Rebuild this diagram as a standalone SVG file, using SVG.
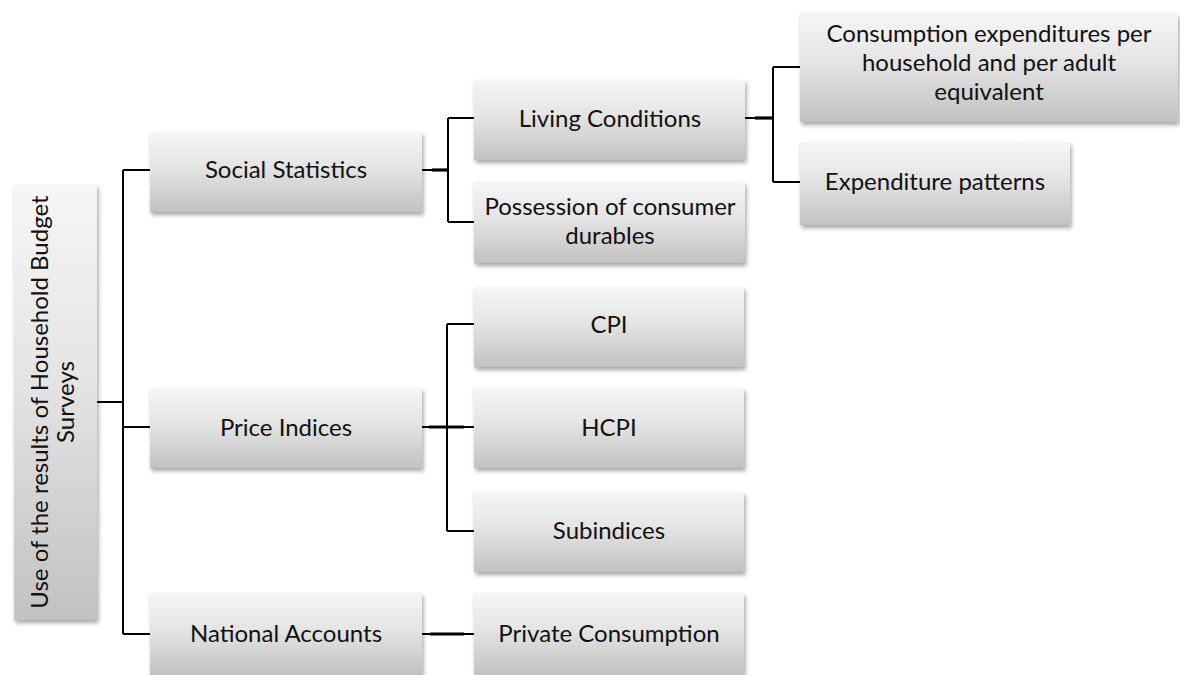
<svg xmlns="http://www.w3.org/2000/svg" width="1180" height="675" viewBox="0 0 1180 675">
<defs>
<linearGradient id="g" x1="0" y1="0" x2="0" y2="1">
<stop offset="0" stop-color="#f6f6f6"/>
<stop offset="0.45" stop-color="#e4e4e4"/>
<stop offset="1" stop-color="#c2c2c2"/>
</linearGradient>
<filter id="sh" x="-10%" y="-10%" width="125%" height="130%">
<feDropShadow dx="1.5" dy="3" stdDeviation="2" flood-color="#000" flood-opacity="0.35"/>
</filter>
<style>
.box{fill:url(#g);filter:url(#sh);}
.t{font-family:Lato,"Liberation Sans",sans-serif;font-size:24px;fill:#111;text-anchor:middle;}
.c{fill:none;stroke:#000;stroke-width:2;}
.ck{fill:none;stroke:#000;stroke-width:3.2;}
</style>
</defs>
<rect width="1180" height="675" fill="#fff"/>
<g id="connectors">
<path class="c" d="M97 402H123M123 170V634M123 170H150M123 427H150M123 634H150"/>
<path class="c" d="M422 170H448M448 118V222M448 118H474M448 222H474"/>
<path class="ck" d="M432 170H448"/>
<path class="c" d="M421 427H447M447 324V531M447 324H474M447 427H474M447 531H474"/>
<path class="ck" d="M429 427H464"/>
<path class="c" d="M422 634H474"/>
<path class="ck" d="M430 634H464"/>
<path class="c" d="M745 118H773M773 67V182M773 67H800M773 182H800"/>
<path class="ck" d="M755 118H773"/>
</g>
<g id="root">
<rect class="box" x="14" y="185" width="83" height="435"/>
<text class="t" transform="translate(48 402) rotate(-90)"><tspan x="0" y="0">Use of the results of Household Budget</tspan><tspan x="0" y="26">Surveys</tspan></text>
</g>
<g id="social">
<rect class="box" x="150" y="132" width="272" height="80"/>
<text class="t" x="286" y="178">Social Statistics</text>
</g>
<g id="price">
<rect class="box" x="150" y="388" width="272" height="80"/>
<text class="t" x="286" y="436">Price Indices</text>
</g>
<g id="national">
<rect class="box" x="150" y="593" width="272" height="82"/>
<text class="t" x="286" y="642">National Accounts</text>
</g>
<g id="living">
<rect class="box" x="474" y="80" width="271" height="80"/>
<text class="t" x="610" y="127">Living Conditions</text>
</g>
<g id="possession">
<rect class="box" x="474" y="182" width="271" height="81"/>
<text class="t" x="610" y="215">Possession of consumer</text>
<text class="t" x="610" y="244">durables</text>
</g>
<g id="cpi">
<rect class="box" x="474" y="287" width="270" height="80"/>
<text class="t" x="609" y="333">CPI</text>
</g>
<g id="hcpi">
<rect class="box" x="474" y="388" width="270" height="80"/>
<text class="t" x="609" y="436">HCPI</text>
</g>
<g id="subindices">
<rect class="box" x="474" y="492" width="270" height="80"/>
<text class="t" x="609" y="539">Subindices</text>
</g>
<g id="private">
<rect class="box" x="474" y="593" width="270" height="82"/>
<text class="t" x="609" y="642">Private Consumption</text>
</g>
<g id="consumption">
<rect class="box" x="800" y="13" width="378" height="109"/>
<text class="t" x="989" y="42">Consumption expenditures per</text>
<text class="t" x="989" y="71">household and per adult</text>
<text class="t" x="989" y="100">equivalent</text>
</g>
<g id="expenditure">
<rect class="box" x="800" y="142" width="270" height="83"/>
<text class="t" x="935" y="190">Expenditure patterns</text>
</g>
</svg>
